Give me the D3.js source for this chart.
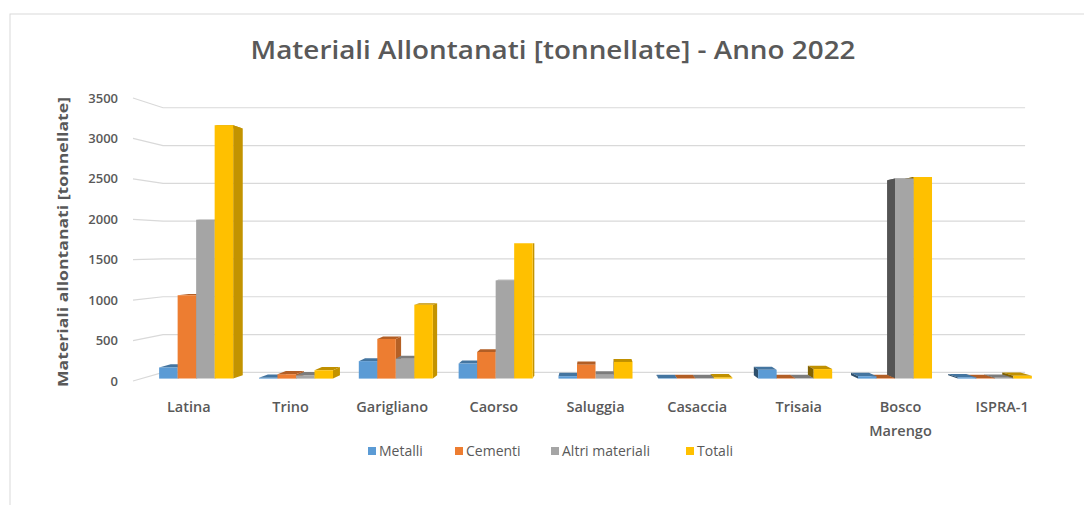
<!DOCTYPE html>
<html>

<head>
  <title>Materiali Allontanati 2022</title>
</head>

<body>

  <svg id="svg" width="1084" height="505"></svg>

  <script src="https://d3js.org/d3.v7.min.js"></script>
  <script>
    const categories = ['Latina', 'Trino', 'Garigliano', 'Caorso', 'Saluggia', 'Casaccia', 'Trisaia', 'Bosco Marengo', 'ISPRA-1']
    const seriesNames = ['Metalli', 'Cementi', 'Altri materiali', 'Totali']
    const metalli = [140, 10, 220, 190, 30, 5, 110, 30, 15]
    const cementi = [1050, 55, 500, 335, 175, 5, 5, 5, 5]
    const altri = [2000, 40, 250, 1235, 50, 5, 5, 2520, 10]
    const totali = [3190, 105, 930, 1705, 210, 15, 120, 2540, 35]
    const yTicks = [0, 500, 1000, 1500, 2000, 2500, 3000, 3500]
    const colors = ['#5b9bd5', '#ed7d31', '#a5a5a5', '#ffc000']

    const values = [metalli, cementi, altri, totali]
    const textColor = '#595959'
    const font = '"Open Sans", sans-serif'

    const svg = d3.select('#svg')

    // frame
    svg.append('rect')
      .attr('x', 10).attr('y', 14)
      .attr('width', 1100).attr('height', 510)
      .attr('fill', 'white')
      .attr('stroke', '#d9d9d9')

    // perspective: front plane coords projected toward a vanishing point
    const vp = [595, 248]
    const sFront = 1, sBack = 0.935, sBarFront = 0.982, sBarBack = 0.956
    const proj = (fx, fy, s) => [vp[0] + (fx - vp[0]) * s, vp[1] + (fy - vp[1]) * s]

    const xscale = d3.scaleBand()
      .domain(categories)
      .range([138, 1053])

    const xseries = d3.scaleBand()
      .domain(seriesNames)
      .range([-37.7, 37.7])

    const yscale = d3.scaleLinear()
      .domain([0, 3500])
      .range([381, 98])

    const wallLeft = 133, wallRight = 1055

    // gridlines: side wall + back wall
    const linegen = d3.line()
    yTicks.forEach(t => {
      const pts = [
        proj(wallLeft, yscale(t), sFront),
        proj(wallLeft, yscale(t), sBack),
        proj(wallRight, yscale(t), sBack)
      ]
      svg.append('path')
        .attr('d', linegen(pts))
        .attr('fill', 'none')
        .attr('stroke', '#d9d9d9')
        .attr('stroke-width', 1.2)
    })

    // y tick labels
    svg.append('g')
      .selectAll('text')
      .data(yTicks)
      .join('text')
      .attr('x', 118)
      .attr('y', d => yscale(d))
      .attr('dy', '0.35em')
      .attr('text-anchor', 'end')
      .attr('font-family', font)
      .attr('font-size', 13)
      .attr('font-weight', 600)
      .attr('fill', textColor)
      .text(d => d)

    // bars, drawn far-from-vanishing-point first
    const bars = []
    categories.forEach((c, i) => {
      seriesNames.forEach((s, j) => {
        const x0 = xscale(c) + xscale.bandwidth() / 2 + xseries(s)
        const x1 = x0 + xseries.bandwidth()
        bars.push({ x0, x1, v: values[j][i], color: colors[j] })
      })
    })
    bars.sort((a, b) => Math.abs((b.x0 + b.x1) / 2 - vp[0]) - Math.abs((a.x0 + a.x1) / 2 - vp[0]))

    const poly = pts => 'M' + pts.map(p => p.join(',')).join('L') + 'Z'
    const gBars = svg.append('g')
    bars.forEach(b => {
      const yt = yscale(b.v), yb = yscale(0)
      const c = d3.color(b.color)
      const leftOfVp = (b.x0 + b.x1) / 2 < vp[0]
      // top face
      gBars.append('path')
        .attr('d', poly([proj(b.x0, yt, sBarFront), proj(b.x1, yt, sBarFront), proj(b.x1, yt, sBarBack), proj(b.x0, yt, sBarBack)]))
        .attr('fill', c.darker(0.8))
      // side face
      const xs = leftOfVp ? b.x1 : b.x0
      gBars.append('path')
        .attr('d', poly([proj(xs, yt, sBarFront), proj(xs, yt, sBarBack), proj(xs, yb, sBarBack), proj(xs, yb, sBarFront)]))
        .attr('fill', leftOfVp ? c.darker(0.75) : c.darker(1.9))
      // front face
      gBars.append('path')
        .attr('d', poly([proj(b.x0, yt, sBarFront), proj(b.x1, yt, sBarFront), proj(b.x1, yb, sBarFront), proj(b.x0, yb, sBarFront)]))
        .attr('fill', b.color)
    })

    // category labels
    svg.append('g')
      .selectAll('text')
      .data(categories)
      .join('text')
      .attr('x', d => xscale(d) + xscale.bandwidth() / 2)
      .attr('y', 407)
      .attr('text-anchor', 'middle')
      .attr('font-family', font)
      .attr('font-size', 14.5)
      .attr('font-weight', 600)
      .attr('fill', textColor)
      .each(function (d) {
        const words = d === 'Bosco Marengo' ? d.split(' ') : [d]
        words.forEach((w, k) => {
          d3.select(this).append('tspan')
            .attr('x', xscale(d) + xscale.bandwidth() / 2)
            .attr('dy', k === 0 ? '0.35em' : 24)
            .text(w)
        })
      })

    // title
    svg.append('text')
      .attr('x', 553)
      .attr('y', 50)
      .attr('dy', '0.35em')
      .attr('text-anchor', 'middle')
      .attr('font-family', font)
      .attr('font-size', 25)
      .attr('font-weight', 600)
      .attr('fill', textColor)
      .attr('textLength', 605)
      .attr('lengthAdjust', 'spacingAndGlyphs')
      .text('Materiali Allontanati [tonnellate] - Anno 2022')

    // y axis title
    svg.append('text')
      .attr('transform', 'translate(63,242) rotate(-90)')
      .attr('dy', '0.35em')
      .attr('text-anchor', 'middle')
      .attr('font-family', font)
      .attr('font-size', 14)
      .attr('font-weight', 700)
      .attr('fill', textColor)
      .attr('textLength', 290)
      .attr('lengthAdjust', 'spacingAndGlyphs')
      .text('Materiali allontanati [tonnellate]')

    // legend
    const legendX = [368, 455, 551, 686]
    const legend = svg.append('g')
    seriesNames.forEach((s, j) => {
      legend.append('rect')
        .attr('x', legendX[j]).attr('y', 447)
        .attr('width', 8).attr('height', 8)
        .attr('fill', colors[j])
      legend.append('text')
        .attr('x', legendX[j] + 11)
        .attr('y', 451)
        .attr('dy', '0.35em')
        .attr('font-family', font)
        .attr('font-size', 14)
        .attr('fill', textColor)
        .text(s)
    })
  </script>
</body>

<style>
  body,
  html {
    margin: 0;
    padding: 0;
  }
</style>

</html>
